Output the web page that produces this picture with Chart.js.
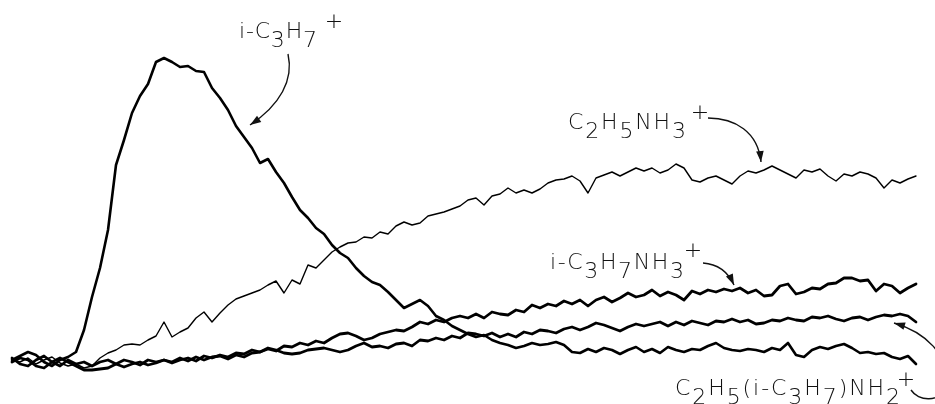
<!DOCTYPE html>
<html>
<head>
<meta charset="utf-8">
<script src="https://cdn.jsdelivr.net/npm/chart.js@4"></script>
<style>
  html, body { margin: 0; padding: 0; background: #fff; }
  #wrap { width: 935px; height: 404px; }
</style>
</head>
<body>
<div id="wrap"><canvas id="ionChart" width="935" height="404"></canvas></div>
<script>
// reaction time (arbitrary units, one sample per step)
const time = [
  0, 1, 2, 3, 4, 5, 6, 7, 8, 9,
  10, 11, 12, 13, 14, 15, 16, 17, 18, 19,
  20, 21, 22, 23, 24, 25, 26, 27, 28, 29,
  30, 31, 32, 33, 34, 35, 36, 37, 38, 39,
  40, 41, 42, 43, 44, 45, 46, 47, 48, 49,
  50, 51, 52, 53, 54, 55, 56, 57, 58, 59,
  60, 61, 62, 63, 64, 65, 66, 67, 68, 69,
  70, 71, 72, 73, 74, 75, 76, 77, 78, 79,
  80, 81, 82, 83, 84, 85, 86, 87, 88, 89,
  90, 91, 92, 93, 94, 95, 96, 97, 98, 99,
  100, 101, 102, 103, 104, 105, 106, 107, 108, 109,
  110, 111, 112, 113
];

// i-C3H7+
const isoPropyl = [
  10, 14, 18, 15, 8, 4, 10, 13, 18, 40,
  73, 102, 140, 205, 230, 257, 274, 286, 308, 312,
  308, 303, 304, 299, 298, 282, 272, 260, 244, 233,
  222, 207, 211, 198, 187, 173, 160, 152, 142, 136,
  125, 117, 112, 102, 94, 88, 85, 78, 70, 62,
  66, 70, 64, 54, 50, 44, 40, 36, 33, 35,
  30, 27, 25, 22, 24, 27, 25, 26, 28, 25,
  18, 17, 21, 18, 22, 20, 16, 20, 23, 18,
  21, 17, 23, 20, 18, 21, 20, 24, 27, 22,
  20, 19, 21, 20, 18, 22, 20, 27, 15, 13,
  20, 23, 21, 24, 26, 22, 17, 18, 16, 17,
  13, 11, 14, 6
];

// C2H5NH3+
const ethylAmmonium = [
  10, 8, 12, 6, 10, 13, 7, 4, 6, 2,
  4, 12, 17, 20, 25, 26, 25, 30, 34, 48,
  33, 38, 42, 52, 58, 48, 57, 65, 71, 74,
  77, 80, 85, 89, 77, 90, 86, 105, 102, 110,
  118, 123, 127, 128, 133, 132, 138, 136, 144, 148,
  145, 147, 154, 156, 158, 161, 164, 170, 172, 165,
  174, 176, 182, 177, 180, 177, 181, 187, 190, 191,
  194, 189, 177, 192, 195, 198, 194, 198, 202, 199,
  202, 197, 200, 206, 202, 190, 188, 192, 194, 190,
  186, 194, 199, 197, 200, 204, 200, 196, 192, 200,
  198, 201, 194, 189, 196, 194, 198, 196, 192, 182,
  190, 187, 191, 194
];

// i-C3H7NH3+
const isoPropylAmmonium = [
  12, 6, 4, 10, 14, 8, 4, 10, 6, 8,
  4, 8, 10, 6, 10, 8, 5, 10, 8, 10,
  7, 10, 12, 9, 14, 12, 15, 13, 17, 16,
  20, 18, 21, 19, 24, 23, 27, 25, 29, 27,
  32, 36, 37, 34, 30, 32, 36, 38, 40, 39,
  43, 48, 46, 50, 48, 52, 54, 52, 56, 52,
  58, 56, 55, 60, 58, 65, 62, 66, 64, 69,
  66, 70, 64, 70, 73, 68, 72, 77, 73, 75,
  80, 74, 78, 75, 70, 79, 76, 80, 78, 81,
  79, 82, 77, 80, 74, 75, 84, 86, 76, 78,
  82, 81, 86, 87, 92, 92, 89, 90, 79, 86,
  84, 77, 82, 86
];

// C2H5(i-C3H7)NH2+
const ethylIsoPropylAmmonium = [
  8, 12, 10, 4, 2, 8, 12, 8, 4, 0,
  0, 1, 2, 6, 3, 6, 8, 5, 7, 10,
  8, 12, 9, 13, 10, 13, 14, 11, 15, 13,
  17, 18, 22, 20, 17, 16, 17, 20, 21, 22,
  20, 18, 20, 24, 27, 23, 24, 22, 26, 27,
  24, 30, 29, 32, 30, 34, 32, 37, 36, 34,
  37, 33, 36, 33, 38, 36, 40, 39, 37, 41,
  43, 40, 43, 47, 45, 42, 39, 43, 46, 44,
  46, 48, 44, 48, 45, 49, 47, 45, 49, 48,
  51, 48, 50, 46, 47, 50, 49, 52, 50, 49,
  53, 52, 54, 51, 49, 52, 53, 50, 53, 55,
  54, 56, 54, 48
];

const toPoints = (vals) => time.map((t, i) => ({ x: t, y: vals[i] }));

const labelFont = '200 22px "DejaVu Sans", "Liberation Sans", sans-serif';
// formula labels: n = normal, s = subscript
const ionLabels = [
  { parts: [['i-C', 'n'], ['3', 's'], ['H', 'n'], ['7', 's']], x: 239, end: 317, base: 38, plus: [334, 20] },
  { parts: [['C', 'n'], ['2', 's'], ['H', 'n'], ['5', 's'], ['NH', 'n'], ['3', 's']], x: 568, end: 686, base: 129, plus: [700, 111] },
  { parts: [['i-C', 'n'], ['3', 's'], ['H', 'n'], ['7', 's'], ['NH', 'n'], ['3', 's']], x: 550, end: 684, base: 269, plus: [693, 249] },
  { parts: [['C', 'n'], ['2', 's'], ['H', 'n'], ['5', 's'], ['(i-C', 'n'], ['3', 's'], ['H', 'n'], ['7', 's'], [')NH', 'n'], ['2', 's']], x: 675, end: 900, base: 395, plus: [906, 378] }
];

// curved pointers, each a list of cubic segments [x0,y0, c1x,c1y, c2x,c2y, x1,y1]
const pointers = [
  [[288, 54, 294, 80, 280, 105, 250, 125]],
  [[708, 118, 735, 118, 758, 132, 761, 162]],
  [[703, 263, 718, 264, 728, 272, 734, 285]],
  [[911, 390, 918, 401, 940, 404, 946, 385], [946, 385, 950, 355, 925, 332, 894, 323]]
];

function drawFormula(ctx, lab) {
  ctx.font = labelFont;
  ctx.textBaseline = 'alphabetic';
  const chars = [];
  lab.parts.forEach(([txt, kind]) => {
    for (const ch of txt) chars.push([ch, kind]);
  });
  let natural = 0;
  chars.forEach(([ch]) => { natural += ctx.measureText(ch).width; });
  const gap = (lab.end - lab.x - natural) / (chars.length - 1);
  let x = lab.x;
  chars.forEach(([ch, kind]) => {
    const y = kind === 's' ? lab.base + 8.5 : lab.base;
    ctx.fillText(ch, x, y);
    x += ctx.measureText(ch).width + gap;
  });
  const pw = ctx.measureText('+').width;
  ctx.fillText('+', lab.plus[0] - pw / 2, lab.plus[1] + 7.5);
}

function drawPointer(ctx, segs) {
  ctx.beginPath();
  segs.forEach((s, i) => {
    if (i === 0) ctx.moveTo(s[0], s[1]);
    ctx.bezierCurveTo(s[2], s[3], s[4], s[5], s[6], s[7]);
  });
  ctx.stroke();
  const last = segs[segs.length - 1];
  const tx = last[6], ty = last[7];
  const a = Math.atan2(ty - last[5], tx - last[4]);
  const len = 11, half = 3.8;
  ctx.beginPath();
  ctx.moveTo(tx, ty);
  ctx.lineTo(tx - len * Math.cos(a) + half * Math.sin(a), ty - len * Math.sin(a) - half * Math.cos(a));
  ctx.lineTo(tx - len * Math.cos(a) - half * Math.sin(a), ty - len * Math.sin(a) + half * Math.cos(a));
  ctx.closePath();
  ctx.fill();
}

const annotate = {
  id: 'annotate',
  afterDraw(chart) {
    const ctx = chart.ctx;
    ctx.save();
    ctx.fillStyle = '#111';
    ctx.strokeStyle = '#111';
    ctx.lineWidth = 1.4;
    ionLabels.forEach(l => drawFormula(ctx, l));
    pointers.forEach(p => drawPointer(ctx, p));
    ctx.restore();
  }
};

const ctx = document.getElementById('ionChart').getContext('2d');

new Chart(ctx, {
  type: 'line',
  data: {
    datasets: [
      { label: 'i-C3H7+', data: toPoints(isoPropyl), borderWidth: 2.6 },
      { label: 'C2H5NH3+', data: toPoints(ethylAmmonium), borderWidth: 1.4 },
      { label: 'i-C3H7NH3+', data: toPoints(isoPropylAmmonium), borderWidth: 2.8 },
      { label: 'C2H5(i-C3H7)NH2+', data: toPoints(ethylIsoPropylAmmonium), borderWidth: 2.8 }
    ].map(d => Object.assign(d, {
      borderColor: '#000',
      pointRadius: 0,
      tension: 0,
      borderJoinStyle: 'round',
      borderCapStyle: 'round',
      fill: false
    }))
  },
  options: {
    responsive: false,
    animation: false,
    layout: { padding: 0 },
    plugins: {
      legend: { display: false },
      tooltip: { enabled: false }
    },
    scales: {
      x: { type: 'linear', min: -1.5, max: 115.375, display: false },
      y: { min: -34, max: 370, display: false }
    }
  },
  plugins: [annotate]
});
</script>
</body>
</html>
